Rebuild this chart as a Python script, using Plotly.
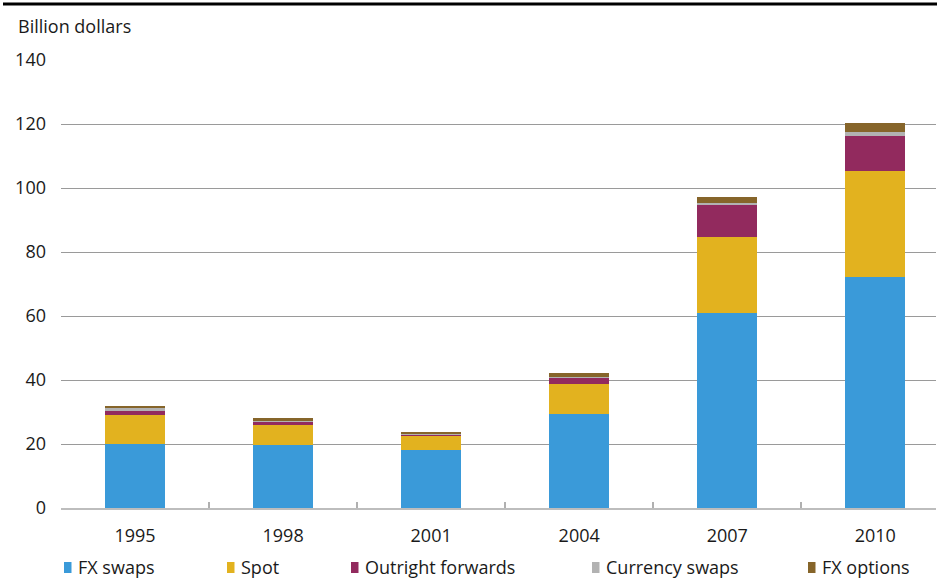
import plotly.graph_objects as go

years = ["1995", "1998", "2001", "2004", "2007", "2010"]
fx_swaps = [20.0, 19.7, 18.1, 29.4, 60.9, 72.2]
spot = [9.1, 6.2, 4.4, 9.4, 23.8, 33.1]
outright_forwards = [1.25, 1.2, 0.6, 1.9, 10.0, 10.9]
currency_swaps = [0.95, 0.2, 0.1, 0.3, 0.6, 1.25]
fx_options = [0.6, 0.8, 0.6, 1.3, 1.9, 2.8]

series_names = ["FX swaps", "Spot", "Outright forwards", "Currency swaps", "FX options"]
series_values = [fx_swaps, spot, outright_forwards, currency_swaps, fx_options]
colors = ["#3a9ad9", "#e2b21f", "#922a5e", "#b2b2b2", "#86652a"]

FONT = "Open Sans"
FS = 18
W, H = 937, 581
L, R, T, B = 61, 1, 60, 73

fig = go.Figure()
for name, vals, col in zip(series_names, series_values, colors):
    fig.add_trace(go.Bar(x=years, y=vals, name=name, marker=dict(color=col, line=dict(width=0)),
                         showlegend=False))

fig.update_layout(
    width=W, height=H, barmode="stack", bargap=0.595,
    margin=dict(l=L, r=R, t=T, b=B),
    plot_bgcolor="white", paper_bgcolor="white",
    font=dict(family=FONT, size=FS, color="#1a1a1a"),
    xaxis=dict(type="category", range=[-0.5, 5.41], showgrid=False,
               showline=True, linecolor="#bdbdbd", linewidth=2,
               ticks="inside", ticklen=6, tickcolor="#b0b0b0", tickwidth=2,
               tickson="boundaries", ticklabelstandoff=10, tickfont=dict(size=FS)),
    yaxis=dict(range=[0, 140], dtick=20, showgrid=True, gridcolor="#9a9a9a", gridwidth=1,
               zeroline=False, showline=False, ticks="", ticklabelstandoff=14,
               tickfont=dict(size=FS)),
)

pw, ph = W - L - R, H - T - B

# top rule and unit label
fig.add_shape(type="line", xref="paper", yref="paper",
              x0=(3 - L) / pw, x1=(W - L) / pw,
              y0=(H - B - 4) / ph, y1=(H - B - 4) / ph,
              line=dict(color="black", width=3))
fig.add_annotation(text="Billion dollars", xref="paper", yref="paper",
                   x=(16 - L) / pw, y=(H - B - 26) / ph,
                   xanchor="left", yanchor="middle", showarrow=False,
                   font=dict(family=FONT, size=FS, color="#1a1a1a"))

# legend drawn along the bottom
legend_x = [64, 227, 351, 592, 808]
legend_y = 567
for name, col, lx in zip(series_names, colors, legend_x):
    fig.add_shape(type="rect", xref="paper", yref="paper",
                  x0=(lx - L) / pw, x1=(lx + 7.5 - L) / pw,
                  y0=(H - B - (legend_y + 6)) / ph, y1=(H - B - (legend_y - 5)) / ph,
                  fillcolor=col, line=dict(width=0))
    fig.add_annotation(text=name, xref="paper", yref="paper",
                       x=(lx + 12 - L) / pw, y=(H - B - legend_y) / ph,
                       xanchor="left", yanchor="middle", showarrow=False,
                       font=dict(family=FONT, size=FS, color="#1a1a1a"))

fig.write_html("out.html")
